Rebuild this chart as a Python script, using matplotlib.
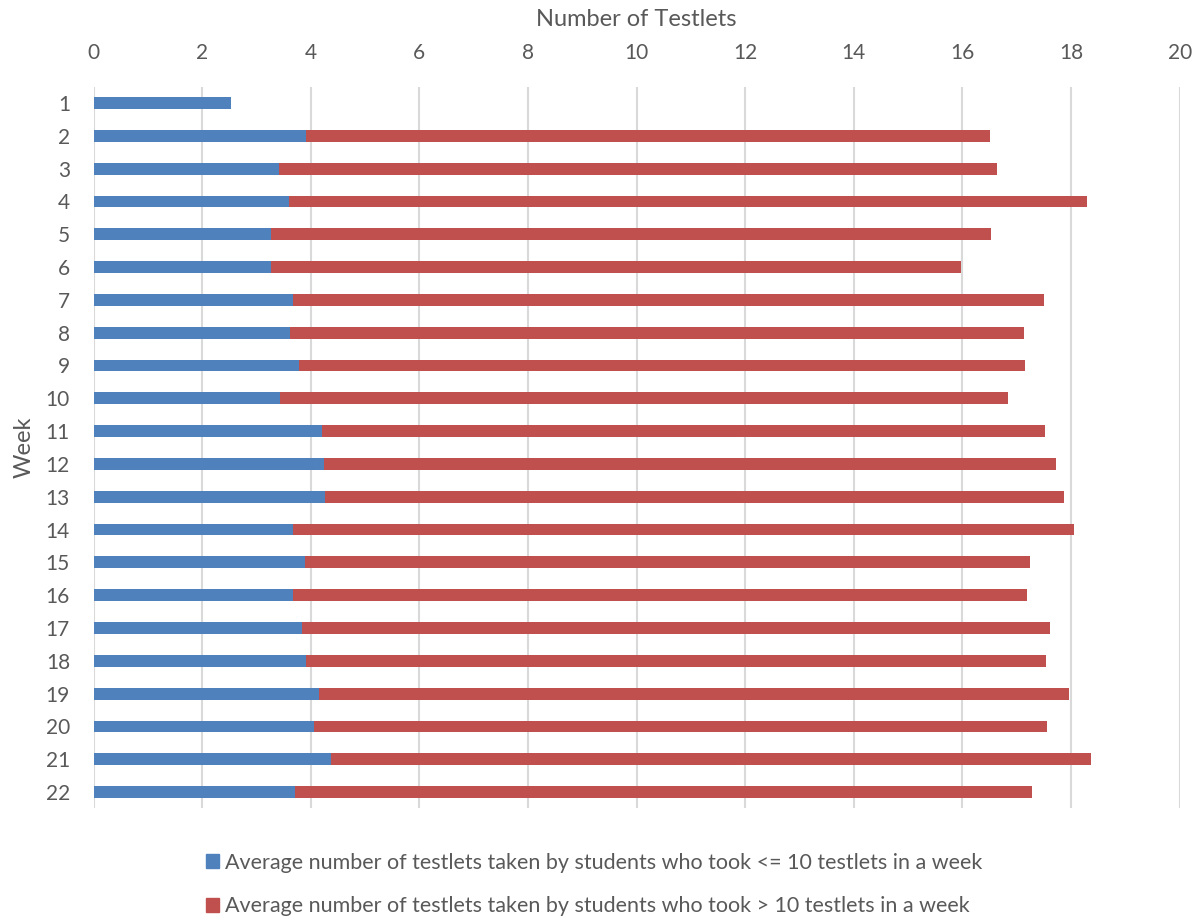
import matplotlib.pyplot as plt
from matplotlib.patches import Patch

plt.rcParams['font.family'] = ['Lato', 'DejaVu Sans']

weeks = list(range(1, 23))
# avg testlets, students who took <= 10 in a week
low_avg = [2.54, 3.92, 3.41, 3.60, 3.27, 3.26, 3.67, 3.61, 3.79, 3.43, 4.20,
           4.25, 4.27, 3.67, 3.89, 3.68, 3.83, 3.92, 4.15, 4.06, 4.38, 3.71]
# avg testlets, students who took > 10 in a week (none in week 1)
high_avg = [0, 16.50, 16.64, 18.29, 16.52, 15.97, 17.50, 17.13, 17.16, 16.84, 17.51,
            17.72, 17.87, 18.06, 17.24, 17.18, 17.61, 17.54, 17.96, 17.56, 18.37, 17.28]
low_label = 'Average number of testlets taken by students who took <= 10 testlets in a week'
high_label = 'Average number of testlets taken by students who took > 10 testlets in a week'

blue = '#4f81bd'
red = '#c0504d'
txt = '#595959'

fig = plt.figure(figsize=(11.96, 9.19), dpi=100)
ax = fig.add_axes([0.0782, 0.1203, 0.9082, 0.7855])

h = 0.36
ax.barh(weeks, high_avg, height=h, color=red, zorder=2)
ax.barh(weeks, low_avg, height=h, color=blue, zorder=3)

ax.set_xlim(0, 20)
ax.set_ylim(22.5, 0.5)
ax.set_xticks(range(0, 21, 2))
ax.set_yticks(weeks)
ax.xaxis.tick_top()
ax.xaxis.set_label_position('top')
ax.tick_params(axis='x', length=0, pad=17, labelsize=15, labelcolor=txt)
ax.tick_params(axis='y', length=0, pad=17, labelsize=15, labelcolor=txt)
ax.grid(axis='x', color='#d9d9d9', linewidth=1.5, zorder=0)
ax.set_axisbelow(True)
for s in ax.spines.values():
    s.set_visible(False)

ax.set_xlabel('Number of Testlets', fontsize=17, color=txt, labelpad=12)
ax.set_ylabel('Week', fontsize=17, color=txt, labelpad=8)

handles = [Patch(color=blue, label=low_label), Patch(color=red, label=high_label)]
fig.legend(handles=handles, loc='center', bbox_to_anchor=(0.497, 0.0375), ncol=1,
           frameon=False, fontsize=15.5, labelcolor=txt, handlelength=0.6,
           handleheight=0.6, handletextpad=0.3, labelspacing=1.1)

fig.savefig('out.png', dpi=100)
